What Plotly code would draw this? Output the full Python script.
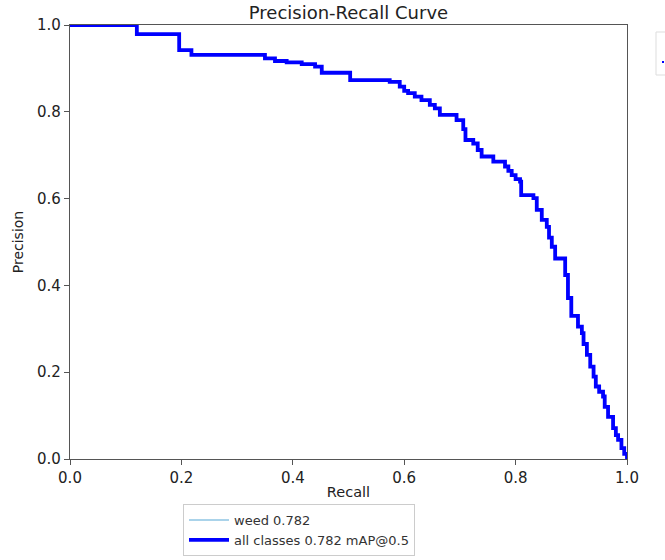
import plotly.graph_objects as go

recall = [0.0, 0.12, 0.196, 0.218, 0.35, 0.368, 0.389, 0.416, 0.44, 0.452, 0.503,
          0.574, 0.592, 0.600, 0.607, 0.619, 0.631, 0.646, 0.655, 0.664, 0.694,
          0.706, 0.710, 0.724, 0.732, 0.739, 0.760, 0.781, 0.787, 0.793, 0.800,
          0.808, 0.810, 0.832, 0.838, 0.847, 0.856, 0.860, 0.865, 0.871, 0.889,
          0.894, 0.900, 0.912, 0.919, 0.922, 0.928, 0.934, 0.940, 0.944, 0.950,
          0.957, 0.960, 0.966, 0.975, 0.980, 0.984, 0.990, 0.995, 1.0]
precision = [1.0, 0.979, 0.942, 0.931, 0.923, 0.917, 0.914, 0.910, 0.904, 0.890, 0.873,
             0.869, 0.858, 0.848, 0.843, 0.835, 0.827, 0.816, 0.808, 0.793, 0.781,
             0.760, 0.735, 0.727, 0.712, 0.697, 0.685, 0.674, 0.664, 0.654, 0.645,
             0.639, 0.608, 0.601, 0.574, 0.551, 0.535, 0.510, 0.489, 0.462, 0.424,
             0.371, 0.330, 0.305, 0.290, 0.265, 0.240, 0.213, 0.190, 0.167, 0.155,
             0.144, 0.120, 0.097, 0.071, 0.055, 0.044, 0.025, 0.012, 0.0]

series_names = ["weed 0.782", "all classes 0.782 mAP@0.5"]
tick_vals = [0.0, 0.2, 0.4, 0.6, 0.8, 1.0]

FONT = "DejaVu Sans"
TXT = "#222222"

fig = go.Figure()
fig.add_trace(go.Scatter(x=recall, y=precision, mode="lines", name=series_names[0],
                         line=dict(color="#8ec4e3", width=1.5, shape="hv")))
fig.add_trace(go.Scatter(x=recall, y=precision, mode="lines", name=series_names[1],
                         line=dict(color="#0000ff", width=3.8, shape="hv")))

axis_common = dict(
    range=[0, 1], tickvals=tick_vals, tickformat=".1f", automargin=False,
    showgrid=False, zeroline=False, showline=True, linecolor="#555555", linewidth=1.3,
    mirror=True, ticks="outside", ticklen=5, tickcolor="#555555",
    tickfont=dict(family=FONT, size=15, color=TXT),
)
fig.update_xaxes(**axis_common, title=dict(text="Recall", font=dict(family=FONT, size=14.5, color=TXT), standoff=0))
fig.update_yaxes(**axis_common, title=dict(text="Precision", font=dict(family=FONT, size=14, color=TXT), standoff=10))

fig.update_layout(
    width=665, height=560,
    margin=dict(l=70, r=38, t=25, b=101),
    paper_bgcolor="white", plot_bgcolor="white",
    title=dict(text="Precision-Recall Curve", x=0.524, xanchor="center", y=0.978, yanchor="middle",
               font=dict(family=FONT, size=18, color=TXT)),
    showlegend=True,
    legend=dict(x=(183 - 70) / 557, xref="paper", y=1 - 504 / 560, yref="container",
                xanchor="left", yanchor="top",
                bordercolor="#cccccc", borderwidth=1, bgcolor="white",
                font=dict(family=FONT, size=13, color="#333333"),
                tracegroupgap=0, itemwidth=40),
    shapes=[
        dict(type="rect", xref="paper", yref="paper", x0=(656 - 70) / 557, x1=(672 - 70) / 557,
             y0=(459 - 75) / 434, y1=(459 - 32) / 434, line=dict(color="#dddddd", width=1),
             fillcolor="white"),
        dict(type="line", xref="paper", yref="paper", x0=(662 - 70) / 557, x1=(664 - 70) / 557,
             y0=(459 - 62) / 434, y1=(459 - 62) / 434, line=dict(color="#0000ff", width=2)),
    ],
)

fig.write_html("out.html", config={"displayModeBar": False},
               post_script="document.body.style.margin='0px';")
